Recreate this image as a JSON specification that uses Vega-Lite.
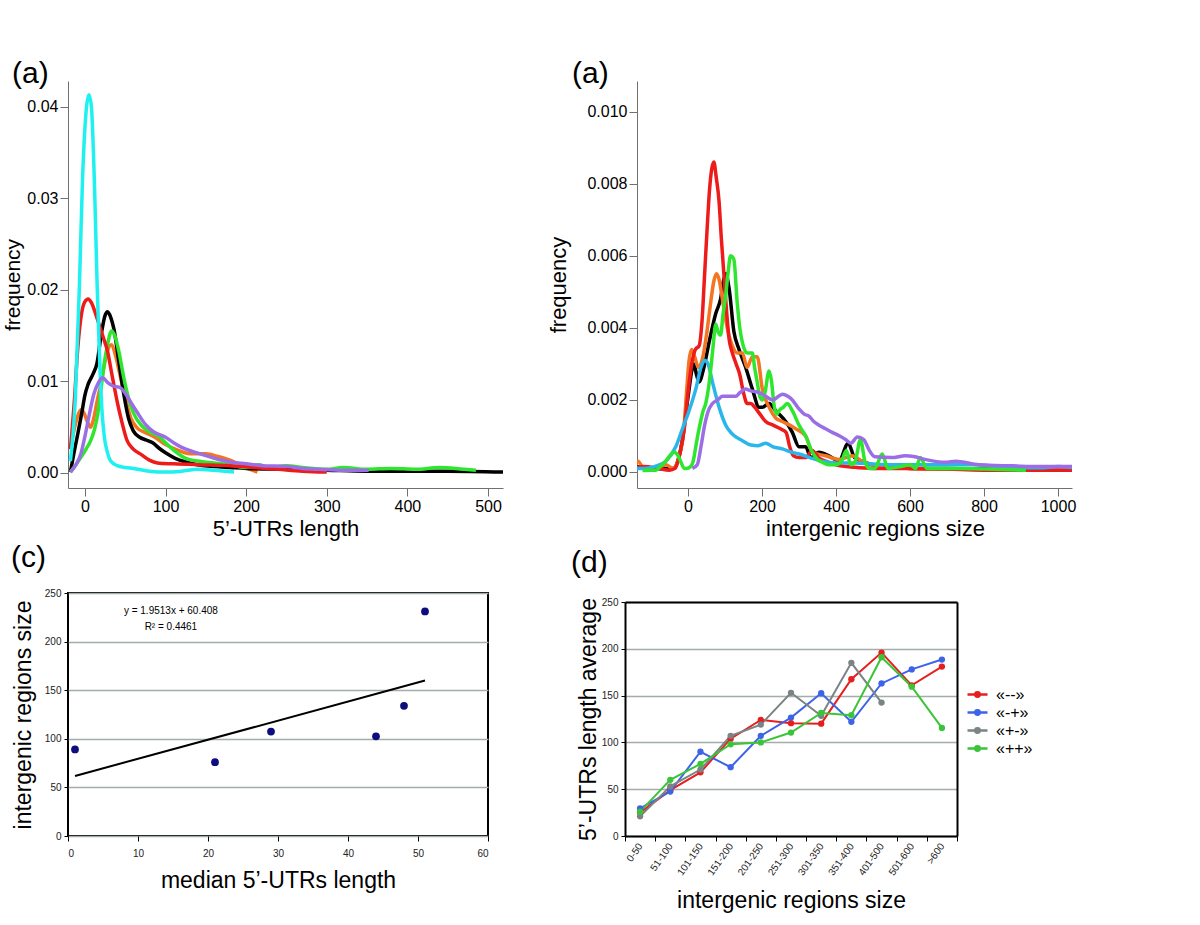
{
"$schema": "https://vega.github.io/schema/vega-lite/v6.json",
"background": "white",
"padding": {"left": 2, "top": 59, "right": 5, "bottom": 5},
"config": {
  "font": "Liberation Sans",
  "view": {"stroke": null},
  "axis": {"labelFont": "Liberation Sans", "titleFont": "Liberation Sans", "titleFontWeight": "normal", "labelColor": "#000000", "titleColor": "#000000", "grid": false, "domainColor": "#707070", "tickColor": "#707070"},
  "title": {"font": "Liberation Sans", "fontWeight": "normal", "fontSize": 30, "anchor": "start", "frame": "group", "color": "#000000", "baseline": "alphabetic"},
  "legend": {"labelFont": "Liberation Sans"}
},
"datasets": {
"utr": [
{"s":"orange","x":-18,"y":0.0026},{"s":"orange","x":-14,"y":0.0045},{"s":"orange","x":-9,"y":0.0062},{"s":"orange","x":-5,"y":0.0069},{"s":"orange","x":-1,"y":0.0065},{"s":"orange","x":3,"y":0.0056},{"s":"orange","x":7,"y":0.005},{"s":"orange","x":11,"y":0.006},{"s":"orange","x":15,"y":0.0078},{"s":"orange","x":20,"y":0.0098},{"s":"orange","x":25,"y":0.0122},{"s":"orange","x":30,"y":0.0138},{"s":"orange","x":33,"y":0.014},{"s":"orange","x":38,"y":0.0128},{"s":"orange","x":44,"y":0.0105},{"s":"orange","x":50,"y":0.0082},{"s":"orange","x":57,"y":0.006},{"s":"orange","x":65,"y":0.0049},{"s":"orange","x":75,"y":0.0044},{"s":"orange","x":85,"y":0.004},{"s":"orange","x":100,"y":0.0031},{"s":"orange","x":115,"y":0.0025},{"s":"orange","x":130,"y":0.0021},{"s":"orange","x":150,"y":0.0021},{"s":"orange","x":165,"y":0.0018},{"s":"orange","x":180,"y":0.0014},{"s":"orange","x":195,"y":0.0008},{"s":"orange","x":205,"y":0.0004},{"s":"orange","x":214,"y":0.0001},
{"s":"black","x":-18,"y":0.0001},{"s":"black","x":-14,"y":0.002},{"s":"black","x":-9,"y":0.0042},{"s":"black","x":-4,"y":0.0065},{"s":"black","x":0,"y":0.0085},{"s":"black","x":4,"y":0.0097},{"s":"black","x":10,"y":0.0108},{"s":"black","x":15,"y":0.012},{"s":"black","x":20,"y":0.015},{"s":"black","x":25,"y":0.0172},{"s":"black","x":28,"y":0.0176},{"s":"black","x":32,"y":0.017},{"s":"black","x":36,"y":0.0157},{"s":"black","x":42,"y":0.0122},{"s":"black","x":48,"y":0.0087},{"s":"black","x":54,"y":0.006},{"s":"black","x":60,"y":0.0046},{"s":"black","x":68,"y":0.0039},{"s":"black","x":76,"y":0.0036},{"s":"black","x":84,"y":0.0033},{"s":"black","x":92,"y":0.0027},{"s":"black","x":100,"y":0.0022},{"s":"black","x":112,"y":0.0016},{"s":"black","x":125,"y":0.0012},{"s":"black","x":140,"y":0.0009},{"s":"black","x":160,"y":0.0007},{"s":"black","x":180,"y":0.0006},{"s":"black","x":200,"y":0.0005},{"s":"black","x":250,"y":0.0004},{"s":"black","x":300,"y":0.0003},{"s":"black","x":350,"y":0.0002},{"s":"black","x":400,"y":0.0002},{"s":"black","x":450,"y":0.0002},{"s":"black","x":520,"y":0.0001},
{"s":"green","x":-18,"y":0.0001},{"s":"green","x":-12,"y":0.0008},{"s":"green","x":-5,"y":0.0017},{"s":"green","x":2,"y":0.0027},{"s":"green","x":7,"y":0.0035},{"s":"green","x":12,"y":0.0048},{"s":"green","x":16,"y":0.0065},{"s":"green","x":20,"y":0.0092},{"s":"green","x":24,"y":0.012},{"s":"green","x":28,"y":0.014},{"s":"green","x":33,"y":0.0155},{"s":"green","x":37,"y":0.015},{"s":"green","x":42,"y":0.0133},{"s":"green","x":48,"y":0.0105},{"s":"green","x":54,"y":0.0082},{"s":"green","x":60,"y":0.0066},{"s":"green","x":70,"y":0.0052},{"s":"green","x":80,"y":0.0045},{"s":"green","x":92,"y":0.004},{"s":"green","x":100,"y":0.0033},{"s":"green","x":110,"y":0.0025},{"s":"green","x":125,"y":0.0016},{"s":"green","x":140,"y":0.0013},{"s":"green","x":160,"y":0.0011},{"s":"green","x":180,"y":0.0009},{"s":"green","x":200,"y":0.0006},{"s":"green","x":215,"y":0.0009},{"s":"green","x":230,"y":0.0006},{"s":"green","x":250,"y":0.0008},{"s":"green","x":270,"y":0.0006},{"s":"green","x":300,"y":0.0004},{"s":"green","x":320,"y":0.0006},{"s":"green","x":350,"y":0.0004},{"s":"green","x":380,"y":0.0005},{"s":"green","x":410,"y":0.0004},{"s":"green","x":440,"y":0.0006},{"s":"green","x":470,"y":0.0004},{"s":"green","x":485,"y":0.0003},
{"s":"red","x":-18,"y":0.0026},{"s":"red","x":-13,"y":0.008},{"s":"red","x":-9,"y":0.0135},{"s":"red","x":-4,"y":0.0175},{"s":"red","x":0,"y":0.0187},{"s":"red","x":4,"y":0.019},{"s":"red","x":8,"y":0.0186},{"s":"red","x":15,"y":0.0169},{"s":"red","x":22,"y":0.015},{"s":"red","x":28,"y":0.0133},{"s":"red","x":34,"y":0.0105},{"s":"red","x":40,"y":0.0078},{"s":"red","x":46,"y":0.0055},{"s":"red","x":52,"y":0.0036},{"s":"red","x":60,"y":0.0026},{"s":"red","x":70,"y":0.002},{"s":"red","x":80,"y":0.0014},{"s":"red","x":90,"y":0.0011},{"s":"red","x":110,"y":0.001},{"s":"red","x":140,"y":0.0009},{"s":"red","x":180,"y":0.0008},{"s":"red","x":210,"y":0.0006},{"s":"red","x":240,"y":0.0004},{"s":"red","x":270,"y":0.0002},{"s":"red","x":300,"y":0.0001},
{"s":"cyan","x":-18,"y":0.0013},{"s":"cyan","x":-12,"y":0.008},{"s":"cyan","x":-7,"y":0.02},{"s":"cyan","x":-3,"y":0.032},{"s":"cyan","x":2,"y":0.04},{"s":"cyan","x":5,"y":0.0413},{"s":"cyan","x":8,"y":0.04},{"s":"cyan","x":12,"y":0.031},{"s":"cyan","x":15,"y":0.021},{"s":"cyan","x":18,"y":0.013},{"s":"cyan","x":21,"y":0.007},{"s":"cyan","x":24,"y":0.004},{"s":"cyan","x":28,"y":0.0022},{"s":"cyan","x":32,"y":0.0013},{"s":"cyan","x":40,"y":0.0008},{"s":"cyan","x":50,"y":0.0006},{"s":"cyan","x":60,"y":0.0005},{"s":"cyan","x":80,"y":0.0002},{"s":"cyan","x":100,"y":0.0001},{"s":"cyan","x":120,"y":0.0002},{"s":"cyan","x":140,"y":0.0004},{"s":"cyan","x":160,"y":0.0003},{"s":"cyan","x":185,"y":0.0001},
{"s":"purple","x":-18,"y":0.0001},{"s":"purple","x":-12,"y":0.0008},{"s":"purple","x":-5,"y":0.0021},{"s":"purple","x":0,"y":0.004},{"s":"purple","x":5,"y":0.0062},{"s":"purple","x":11,"y":0.0086},{"s":"purple","x":17,"y":0.0099},{"s":"purple","x":22,"y":0.0104},{"s":"purple","x":28,"y":0.0099},{"s":"purple","x":35,"y":0.0095},{"s":"purple","x":44,"y":0.0093},{"s":"purple","x":50,"y":0.0087},{"s":"purple","x":57,"y":0.0077},{"s":"purple","x":65,"y":0.0066},{"s":"purple","x":75,"y":0.0053},{"s":"purple","x":85,"y":0.0045},{"s":"purple","x":100,"y":0.0039},{"s":"purple","x":110,"y":0.0033},{"s":"purple","x":120,"y":0.0028},{"s":"purple","x":135,"y":0.0023},{"s":"purple","x":150,"y":0.0019},{"s":"purple","x":165,"y":0.0015},{"s":"purple","x":180,"y":0.0012},{"s":"purple","x":200,"y":0.001},{"s":"purple","x":220,"y":0.0008},{"s":"purple","x":250,"y":0.0007},{"s":"purple","x":270,"y":0.0005},{"s":"purple","x":290,"y":0.0004},{"s":"purple","x":320,"y":0.0003},{"s":"purple","x":352,"y":0.0003}
],
"ig": [
{"s":"black","x":-145,"y":0.0001},{"s":"black","x":-130,"y":0.00015},{"s":"black","x":-100,"y":0.00008},{"s":"black","x":-60,"y":0.0001},{"s":"black","x":-40,"y":0.0001},{"s":"black","x":-25,"y":0.0004},{"s":"black","x":-15,"y":0.0009},{"s":"black","x":-5,"y":0.0017},{"s":"black","x":3,"y":0.0023},{"s":"black","x":10,"y":0.0028},{"s":"black","x":16,"y":0.003},{"s":"black","x":23,"y":0.0027},{"s":"black","x":30,"y":0.0025},{"s":"black","x":43,"y":0.0029},{"s":"black","x":57,"y":0.0036},{"s":"black","x":75,"y":0.0044},{"s":"black","x":88,"y":0.0048},{"s":"black","x":96,"y":0.0053},{"s":"black","x":102,"y":0.0055},{"s":"black","x":111,"y":0.0051},{"s":"black","x":124,"y":0.0039},{"s":"black","x":138,"y":0.0034},{"s":"black","x":156,"y":0.0029},{"s":"black","x":174,"y":0.0023},{"s":"black","x":192,"y":0.0018},{"s":"black","x":201,"y":0.0018},{"s":"black","x":219,"y":0.0019},{"s":"black","x":237,"y":0.0017},{"s":"black","x":264,"y":0.0014},{"s":"black","x":282,"y":0.0011},{"s":"black","x":300,"y":0.0007},{"s":"black","x":318,"y":0.0007},{"s":"black","x":332,"y":0.0004},{"s":"black","x":354,"y":0.00055},{"s":"black","x":381,"y":0.00045},{"s":"black","x":408,"y":0.0003},{"s":"black","x":433,"y":0.0008},{"s":"black","x":450,"y":0.0004},{"s":"black","x":470,"y":0.0003},{"s":"black","x":498,"y":0.0002},{"s":"black","x":550,"y":0.00015},{"s":"black","x":600,"y":0.0001},{"s":"black","x":700,"y":0.0001},{"s":"black","x":800,"y":0.00008},{"s":"black","x":900,"y":0.00005},{"s":"black","x":1040,"y":0.00005},
{"s":"orange","x":-145,"y":0.0001},{"s":"orange","x":-135,"y":0.0003},{"s":"orange","x":-120,"y":0.0001},{"s":"orange","x":-90,"y":0.00008},{"s":"orange","x":-60,"y":0.0002},{"s":"orange","x":-40,"y":0.0001},{"s":"orange","x":-25,"y":0.0004},{"s":"orange","x":-12,"y":0.0011},{"s":"orange","x":-4,"y":0.0022},{"s":"orange","x":3,"y":0.0031},{"s":"orange","x":10,"y":0.0034},{"s":"orange","x":18,"y":0.0032},{"s":"orange","x":28,"y":0.0029},{"s":"orange","x":38,"y":0.0031},{"s":"orange","x":50,"y":0.0038},{"s":"orange","x":60,"y":0.0046},{"s":"orange","x":70,"y":0.0053},{"s":"orange","x":77,"y":0.0055},{"s":"orange","x":85,"y":0.0053},{"s":"orange","x":93,"y":0.0048},{"s":"orange","x":106,"y":0.004},{"s":"orange","x":120,"y":0.0035},{"s":"orange","x":133,"y":0.0033},{"s":"orange","x":147,"y":0.0033},{"s":"orange","x":160,"y":0.0029},{"s":"orange","x":174,"y":0.0032},{"s":"orange","x":187,"y":0.0032},{"s":"orange","x":201,"y":0.0023},{"s":"orange","x":219,"y":0.0018},{"s":"orange","x":237,"y":0.0015},{"s":"orange","x":255,"y":0.0014},{"s":"orange","x":275,"y":0.0013},{"s":"orange","x":291,"y":0.0012},{"s":"orange","x":318,"y":0.001},{"s":"orange","x":336,"y":0.00055},{"s":"orange","x":372,"y":0.00045},{"s":"orange","x":408,"y":0.00035},{"s":"orange","x":444,"y":0.00045},{"s":"orange","x":470,"y":0.0003},{"s":"orange","x":498,"y":0.0002},{"s":"orange","x":550,"y":0.00012},{"s":"orange","x":600,"y":0.0001},{"s":"orange","x":700,"y":0.00008},{"s":"orange","x":800,"y":0.00006},{"s":"orange","x":900,"y":0.00005},{"s":"orange","x":1040,"y":0.00005},
{"s":"red","x":-145,"y":0.0001},{"s":"red","x":-120,"y":0.00015},{"s":"red","x":-80,"y":0.0001},{"s":"red","x":-50,"y":0.00005},{"s":"red","x":-35,"y":0.0001},{"s":"red","x":-20,"y":0.0006},{"s":"red","x":-10,"y":0.0012},{"s":"red","x":0,"y":0.0022},{"s":"red","x":10,"y":0.003},{"s":"red","x":20,"y":0.0034},{"s":"red","x":30,"y":0.0035},{"s":"red","x":38,"y":0.0042},{"s":"red","x":45,"y":0.0055},{"s":"red","x":52,"y":0.0068},{"s":"red","x":58,"y":0.0078},{"s":"red","x":64,"y":0.0084},{"s":"red","x":70,"y":0.0086},{"s":"red","x":76,"y":0.0082},{"s":"red","x":84,"y":0.0075},{"s":"red","x":90,"y":0.0065},{"s":"red","x":97,"y":0.0055},{"s":"red","x":104,"y":0.0045},{"s":"red","x":111,"y":0.0037},{"s":"red","x":120,"y":0.0033},{"s":"red","x":130,"y":0.003},{"s":"red","x":140,"y":0.0027},{"s":"red","x":150,"y":0.0022},{"s":"red","x":160,"y":0.0019},{"s":"red","x":170,"y":0.0019},{"s":"red","x":180,"y":0.0018},{"s":"red","x":195,"y":0.0016},{"s":"red","x":210,"y":0.0014},{"s":"red","x":230,"y":0.0013},{"s":"red","x":250,"y":0.0012},{"s":"red","x":265,"y":0.0011},{"s":"red","x":275,"y":0.0007},{"s":"red","x":285,"y":0.00045},{"s":"red","x":300,"y":0.0004},{"s":"red","x":318,"y":0.0004},{"s":"red","x":336,"y":0.0006},{"s":"red","x":352,"y":0.0004},{"s":"red","x":372,"y":0.0003},{"s":"red","x":400,"y":0.0002},{"s":"red","x":450,"y":0.00013},{"s":"red","x":500,"y":0.0001},{"s":"red","x":600,"y":0.0001},{"s":"red","x":700,"y":0.00008},{"s":"red","x":800,"y":0.00005},{"s":"red","x":1040,"y":0.00005},
{"s":"lightblue","x":-145,"y":0.0001},{"s":"lightblue","x":-120,"y":0.0001},{"s":"lightblue","x":-90,"y":0.00015},{"s":"lightblue","x":-60,"y":0.0003},{"s":"lightblue","x":-33,"y":0.0007},{"s":"lightblue","x":-15,"y":0.0012},{"s":"lightblue","x":3,"y":0.0017},{"s":"lightblue","x":21,"y":0.0023},{"s":"lightblue","x":35,"y":0.0029},{"s":"lightblue","x":45,"y":0.0031},{"s":"lightblue","x":54,"y":0.003},{"s":"lightblue","x":66,"y":0.0025},{"s":"lightblue","x":84,"y":0.0018},{"s":"lightblue","x":102,"y":0.0013},{"s":"lightblue","x":120,"y":0.00105},{"s":"lightblue","x":147,"y":0.00087},{"s":"lightblue","x":170,"y":0.00075},{"s":"lightblue","x":190,"y":0.00073},{"s":"lightblue","x":210,"y":0.0008},{"s":"lightblue","x":230,"y":0.0007},{"s":"lightblue","x":255,"y":0.00064},{"s":"lightblue","x":280,"y":0.00055},{"s":"lightblue","x":300,"y":0.0005},{"s":"lightblue","x":330,"y":0.0004},{"s":"lightblue","x":363,"y":0.0003},{"s":"lightblue","x":400,"y":0.00025},{"s":"lightblue","x":453,"y":0.00025},{"s":"lightblue","x":500,"y":0.00022},{"s":"lightblue","x":550,"y":0.0002},{"s":"lightblue","x":600,"y":0.0002},{"s":"lightblue","x":700,"y":0.0002},{"s":"lightblue","x":768,"y":0.0002},{"s":"lightblue","x":850,"y":0.00015},{"s":"lightblue","x":950,"y":0.00012},{"s":"lightblue","x":1000,"y":0.00015},{"s":"lightblue","x":1040,"y":0.00012},
{"s":"green","x":-123,"y":0.00004},{"s":"green","x":-100,"y":0.00005},{"s":"green","x":-87,"y":0.00005},{"s":"green","x":-75,"y":0.00015},{"s":"green","x":-60,"y":0.0003},{"s":"green","x":-45,"y":0.0005},{"s":"green","x":-38,"y":0.00055},{"s":"green","x":-30,"y":0.0005},{"s":"green","x":-20,"y":0.0003},{"s":"green","x":-10,"y":0.0001},{"s":"green","x":-4,"y":0.0001},{"s":"green","x":7,"y":0.00015},{"s":"green","x":14,"y":0.0003},{"s":"green","x":21,"y":0.0007},{"s":"green","x":28,"y":0.0011},{"s":"green","x":34,"y":0.0014},{"s":"green","x":41,"y":0.0017},{"s":"green","x":48,"y":0.0019},{"s":"green","x":55,"y":0.0023},{"s":"green","x":61,"y":0.0028},{"s":"green","x":68,"y":0.0035},{"s":"green","x":75,"y":0.0041},{"s":"green","x":81,"y":0.0039},{"s":"green","x":88,"y":0.0038},{"s":"green","x":95,"y":0.0044},{"s":"green","x":102,"y":0.0049},{"s":"green","x":108,"y":0.0055},{"s":"green","x":115,"y":0.006},{"s":"green","x":124,"y":0.0059},{"s":"green","x":133,"y":0.0047},{"s":"green","x":140,"y":0.004},{"s":"green","x":147,"y":0.0036},{"s":"green","x":160,"y":0.0033},{"s":"green","x":174,"y":0.0033},{"s":"green","x":180,"y":0.0029},{"s":"green","x":187,"y":0.0025},{"s":"green","x":194,"y":0.0021},{"s":"green","x":201,"y":0.002},{"s":"green","x":208,"y":0.0022},{"s":"green","x":219,"y":0.0028},{"s":"green","x":226,"y":0.0025},{"s":"green","x":232,"y":0.0019},{"s":"green","x":240,"y":0.0016},{"s":"green","x":246,"y":0.0017},{"s":"green","x":258,"y":0.0018},{"s":"green","x":268,"y":0.0019},{"s":"green","x":282,"y":0.0017},{"s":"green","x":300,"y":0.0013},{"s":"green","x":318,"y":0.001},{"s":"green","x":336,"y":0.00055},{"s":"green","x":350,"y":0.00035},{"s":"green","x":363,"y":0.00027},{"s":"green","x":380,"y":0.0002},{"s":"green","x":399,"y":0.0002},{"s":"green","x":415,"y":0.0003},{"s":"green","x":428,"y":0.0006},{"s":"green","x":440,"y":0.0002},{"s":"green","x":452,"y":0.0003},{"s":"green","x":466,"y":0.0009},{"s":"green","x":478,"y":0.0003},{"s":"green","x":490,"y":0.0001},{"s":"green","x":505,"y":0.0001},{"s":"green","x":525,"y":0.0005},{"s":"green","x":540,"y":0.0001},{"s":"green","x":575,"y":0.00015},{"s":"green","x":600,"y":0.0002},{"s":"green","x":615,"y":0.0001},{"s":"green","x":628,"y":0.0004},{"s":"green","x":645,"y":0.0001},{"s":"green","x":680,"y":0.0001},{"s":"green","x":730,"y":0.0001},{"s":"green","x":800,"y":0.00008},{"s":"green","x":913,"y":0.00005},
{"s":"purple","x":12,"y":0.0001},{"s":"purple","x":25,"y":0.0002},{"s":"purple","x":35,"y":0.0007},{"s":"purple","x":45,"y":0.0013},{"s":"purple","x":55,"y":0.0017},{"s":"purple","x":66,"y":0.0019},{"s":"purple","x":80,"y":0.002},{"s":"purple","x":93,"y":0.0021},{"s":"purple","x":110,"y":0.0021},{"s":"purple","x":129,"y":0.0021},{"s":"purple","x":140,"y":0.0022},{"s":"purple","x":155,"y":0.0023},{"s":"purple","x":170,"y":0.00225},{"s":"purple","x":192,"y":0.0022},{"s":"purple","x":210,"y":0.0021},{"s":"purple","x":228,"y":0.002},{"s":"purple","x":245,"y":0.0021},{"s":"purple","x":255,"y":0.00216},{"s":"purple","x":270,"y":0.0021},{"s":"purple","x":282,"y":0.002},{"s":"purple","x":300,"y":0.00175},{"s":"purple","x":315,"y":0.0016},{"s":"purple","x":327,"y":0.00155},{"s":"purple","x":340,"y":0.0014},{"s":"purple","x":354,"y":0.0013},{"s":"purple","x":372,"y":0.0012},{"s":"purple","x":390,"y":0.0011},{"s":"purple","x":410,"y":0.001},{"s":"purple","x":426,"y":0.0009},{"s":"purple","x":440,"y":0.0008},{"s":"purple","x":458,"y":0.00097},{"s":"purple","x":475,"y":0.0009},{"s":"purple","x":490,"y":0.0006},{"s":"purple","x":505,"y":0.00042},{"s":"purple","x":550,"y":0.0004},{"s":"purple","x":588,"y":0.00045},{"s":"purple","x":610,"y":0.00043},{"s":"purple","x":640,"y":0.00035},{"s":"purple","x":696,"y":0.00027},{"s":"purple","x":723,"y":0.0003},{"s":"purple","x":786,"y":0.0002},{"s":"purple","x":877,"y":0.00017},{"s":"purple","x":950,"y":0.00015},{"s":"purple","x":1040,"y":0.00015}
],
"scatter": [{"m":1,"g":89},{"m":21,"g":76},{"m":29,"g":107.5},{"m":44,"g":102.5},{"m":48,"g":134},{"m":51,"g":231}],
"trend": [{"m":1,"g":61.8},{"m":51,"g":159.9}],
"note": [{"m":14.7,"g":231,"t":"y = 1.9513x + 60.408"},{"m":14.7,"g":215,"t":"R² = 0.4461"}],
"avg": [
{"s":"«--»","bin":"0-50","v":25},{"s":"«--»","bin":"51-100","v":49},{"s":"«--»","bin":"101-150","v":68},{"s":"«--»","bin":"151-200","v":104},{"s":"«--»","bin":"201-250","v":124},{"s":"«--»","bin":"251-300","v":120.5},{"s":"«--»","bin":"301-350","v":120},{"s":"«--»","bin":"351-400","v":167.5},{"s":"«--»","bin":"401-500","v":196},{"s":"«--»","bin":"501-600","v":161},{"s":"«--»","bin":">600","v":181},
{"s":"«-+»","bin":"0-50","v":29.5},{"s":"«-+»","bin":"51-100","v":47.5},{"s":"«-+»","bin":"101-150","v":90},{"s":"«-+»","bin":"151-200","v":73.5},{"s":"«-+»","bin":"201-250","v":107},{"s":"«-+»","bin":"251-300","v":126.5},{"s":"«-+»","bin":"301-350","v":152.5},{"s":"«-+»","bin":"351-400","v":122},{"s":"«-+»","bin":"401-500","v":163},{"s":"«-+»","bin":"501-600","v":178},{"s":"«-+»","bin":">600","v":188.5},
{"s":"«+-»","bin":"0-50","v":21},{"s":"«+-»","bin":"51-100","v":53},{"s":"«+-»","bin":"101-150","v":71},{"s":"«+-»","bin":"151-200","v":107},{"s":"«+-»","bin":"201-250","v":119},{"s":"«+-»","bin":"251-300","v":153},{"s":"«+-»","bin":"301-350","v":128.5},{"s":"«+-»","bin":"351-400","v":185},{"s":"«+-»","bin":"401-500","v":142.5},
{"s":"«++»","bin":"0-50","v":26},{"s":"«++»","bin":"51-100","v":60},{"s":"«++»","bin":"101-150","v":77},{"s":"«++»","bin":"151-200","v":98},{"s":"«++»","bin":"201-250","v":100},{"s":"«++»","bin":"251-300","v":110.5},{"s":"«++»","bin":"301-350","v":131.5},{"s":"«++»","bin":"351-400","v":129},{"s":"«++»","bin":"401-500","v":191},{"s":"«++»","bin":"501-600","v":159.5},{"s":"«++»","bin":">600","v":115.5}
]
},
"vconcat": [
{
"hconcat": [
{
"width": 435, "height": 407,
"title": {"text": "(a)", "dx": -56, "offset": -8},
"data": {"name": "utr"},
"mark": {"type": "line", "strokeWidth": 3.5, "interpolate": "monotone", "clip": true},
"encoding": {
"x": {"field": "x", "type": "quantitative", "scale": {"domain": [-21, 518.6], "nice": false, "zero": false},
 "axis": {"values": [0,100,200,300,400,500], "title": "5’-UTRs length", "titleFontSize": 22, "labelFontSize": 16, "tickSize": 8, "labelPadding": 2, "titlePadding": 4}},
"y": {"field": "y", "type": "quantitative", "scale": {"domain": [-0.00164, 0.0428], "nice": false, "zero": false},
 "axis": {"values": [0,0.01,0.02,0.03,0.04], "format": ".2f", "title": "frequency", "titleFontSize": 21, "labelFontSize": 16, "tickSize": 8, "labelPadding": 2, "titlePadding": 3}},
"color": {"field": "s", "type": "nominal", "sort": null, "scale": {"domain": ["orange","black","green","red","cyan","purple"], "range": ["#f47421","#000000","#2fe62f","#ee1b1b","#1ff0f0","#9b6ee6"]}, "legend": null}
}
},
{
"width": 435, "height": 407,
"title": {"text": "(a)", "dx": -65, "offset": -8},
"data": {"name": "ig"},
"mark": {"type": "line", "strokeWidth": 3.5, "interpolate": "monotone", "clip": true},
"encoding": {
"x": {"field": "x", "type": "quantitative", "scale": {"domain": [-137.8, 1037.8], "nice": false, "zero": false},
 "axis": {"values": [0,200,400,600,800,1000], "format": "d", "title": "intergenic regions size", "titleFontSize": 22, "labelFontSize": 16, "tickSize": 8, "labelPadding": 2, "titlePadding": 4, "titleX": 238}},
"y": {"field": "y", "type": "quantitative", "scale": {"domain": [-0.000444, 0.01085], "nice": false, "zero": false},
 "axis": {"values": [0,0.002,0.004,0.006,0.008,0.01], "format": ".3f", "title": "frequency", "titleFontSize": 22, "labelFontSize": 16, "tickSize": 8, "labelPadding": 2, "titlePadding": 16}},
"color": {"field": "s", "type": "nominal", "sort": null, "scale": {"domain": ["black","orange","red","lightblue","green","purple"], "range": ["#000000","#f47421","#ee1b1b","#2ab6ea","#2fe62f","#9b6ee6"]}, "legend": null}
}
}
],
"spacing": 134, "bounds": "flush",
"resolve": {"scale": {"color": "independent"}, "legend": {"color": "independent"}}
},
{
"hconcat": [
{
"width": 420, "height": 243,
"view": {"stroke": "#000000", "strokeWidth": 2},
"title": {"text": "(c)", "dx": -57, "offset": 15},
"layer": [
{"data": {"name": "trend"}, "mark": {"type": "line", "color": "#000000", "strokeWidth": 2},
 "encoding": {
  "x": {"field": "m", "type": "quantitative", "scale": {"domain": [0,60], "nice": false}, "axis": {"values": [0,10,20,30,40,50,60], "title": "median 5’-UTRs length", "titleFontSize": 23, "labelFontSize": 10, "labelColor": "#222222", "tickSize": 5, "tickColor": "#000000", "labelPadding": 7, "titlePadding": 11, "domain": false}},
  "y": {"field": "g", "type": "quantitative", "scale": {"domain": [0,250], "nice": false}, "axis": {"values": [0,50,100,150,200,250], "title": "intergenic regions size", "titleFontSize": 23, "labelFontSize": 10, "labelColor": "#222222", "tickSize": 4, "tickColor": "#000000", "labelPadding": 3, "titlePadding": 9, "domain": false, "grid": true, "gridColor": "#a3adad", "gridWidth": 1.3}}
 }},
{"data": {"name": "scatter"}, "mark": {"type": "circle", "size": 60, "color": "#0d0d7d", "opacity": 1},
 "encoding": {"x": {"field": "m", "type": "quantitative"}, "y": {"field": "g", "type": "quantitative"}}},
{"data": {"name": "note"}, "mark": {"type": "text", "fontSize": 10, "font": "Liberation Sans", "color": "#000000"},
 "encoding": {"x": {"field": "m", "type": "quantitative"}, "y": {"field": "g", "type": "quantitative"}, "text": {"field": "t"}}}
]
},
{
"width": 332, "height": 243,
"title": {"text": "(d)", "dx": -54, "offset": 15},
"data": {"name": "avg"},
"layer": [
{"mark": {"type": "line", "strokeWidth": 2},
 "encoding": {
  "x": {"field": "bin", "type": "ordinal", "sort": ["0-50","51-100","101-150","151-200","201-250","251-300","301-350","351-400","401-500","501-600",">600"], "scale": {"type": "band", "paddingInner": 0, "paddingOuter": 0},
   "axis": {"title": "intergenic regions size", "titleFontSize": 23, "labelFontSize": 10, "labelColor": "#222222", "labelAngle": -55, "labelAlign": "right", "labelBaseline": "middle", "tickBand": "extent", "tickSize": 5, "tickColor": "#000000", "domainColor": "#000000", "domainWidth": 2, "labelPadding": 3, "titlePadding": 13}},
  "y": {"field": "v", "type": "quantitative", "scale": {"domain": [0,250], "range": [243, 9], "nice": false},
   "axis": {"values": [0,50,100,150,200,250], "title": "5’-UTRs length average", "titleFontSize": 23, "labelFontSize": 10, "labelColor": "#222222", "tickSize": 4, "tickColor": "#000000", "domainColor": "#000000", "domainWidth": 2, "labelPadding": 3, "titlePadding": 1, "grid": true, "gridColor": "#a3adad", "gridWidth": 1.3}},
  "stroke": {"field": "s", "type": "nominal", "sort": null, "scale": {"domain": ["«--»","«-+»","«+-»","«++»"], "range": ["#e51f1f","#3d64e8","#7b8385","#3ac43a"]},
   "legend": {"title": null, "orient": "none", "legendX": 900, "legendY": 604, "symbolType": "M-1.25,0H1.25M0.28,0A0.28,0.28,0,1,1,-0.28,0A0.28,0.28,0,1,1,0.28,0", "symbolSize": 256, "symbolStrokeWidth": 2.5, "labelFontSize": 16, "labelColor": "#000000", "rowPadding": -3, "labelOffset": 9, "padding": 0}}
 }},
{"mark": {"type": "circle", "size": 40, "opacity": 1},
 "encoding": {
  "x": {"field": "bin", "type": "ordinal", "sort": ["0-50","51-100","101-150","151-200","201-250","251-300","301-350","351-400","401-500","501-600",">600"], "axis": {"orient": "top", "offset": -9, "labels": false, "ticks": false, "title": null, "domainColor": "#000000", "domainWidth": 2}},
  "y": {"field": "v", "type": "quantitative", "axis": {"orient": "right", "labels": false, "ticks": false, "title": null, "grid": false, "domainColor": "#000000", "domainWidth": 2}},
  "fill": {"field": "s", "type": "nominal", "sort": null, "scale": {"domain": ["«--»","«-+»","«+-»","«++»"], "range": ["#e51f1f","#3d64e8","#7b8385","#3ac43a"]}, "legend": null}
 }}
],
"resolve": {"axis": {"x": "independent", "y": "independent"}}
}
],
"spacing": 137, "bounds": "flush",
"resolve": {"scale": {"color": "independent"}, "legend": {"color": "independent"}}
}
],
"spacing": 3,
"resolve": {"scale": {"color": "independent"}, "legend": {"color": "independent"}}
}
